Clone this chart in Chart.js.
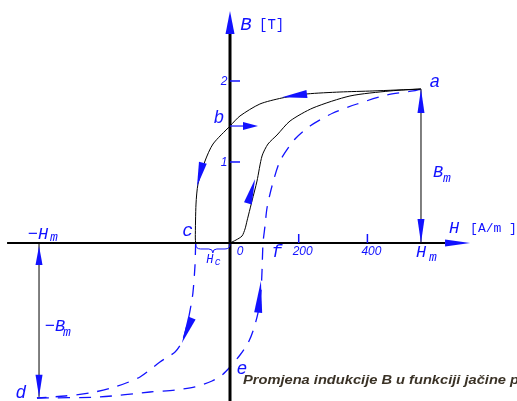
<!DOCTYPE html>
<html>
<head>
<meta charset="utf-8">
<script src="https://cdn.jsdelivr.net/npm/chart.js@4.4.1/dist/chart.umd.min.js"></script>
<style>
  html, body { margin: 0; padding: 0; background: #fff; }
</style>
</head>
<body>
<canvas id="chart" width="517" height="401"></canvas>
<script>
// hysteresis loop, H in A/m, B in T
const initH = [0, 17.5, 35, 43.7, 49.5, 58.2, 64, 78.6, 93.2, 110.6, 136.8, 174.7, 241.6, 349.3, 465.8, 556];
const initB = [0, 0.037, 0.086, 0.173, 0.272, 0.42, 0.519, 0.765, 1.074, 1.222, 1.333, 1.506, 1.667, 1.815, 1.877, 1.901];

const downH = [556, 416, 320, 224, 151, 87, 29, 0, -49.5, -72.8, -93.2, -99, -101, -100];
const downB = [1.901, 1.877, 1.864, 1.84, 1.79, 1.716, 1.568, 1.444, 1.222, 1.012, 0.728, 0.481, 0.062, 0];

const downDashH = [-100, -102, -108, -116, -125, -140, -160, -204, -262, -335, -408, -480, -562];
const downDashB = [0, -0.284, -0.617, -0.827, -1.012, -1.222, -1.346, -1.469, -1.654, -1.778, -1.852, -1.889, -1.914];

const upH = [-562, -378, -233, -160, -102, -52.4, -23.3, 0, 29.1, 52.4, 67, 81.5, 90.2, 93.2, 96.1, 101.9, 107.7, 122.3, 145.6, 189.2, 232.9, 299.9, 369.7, 457, 532.8, 556];
const upB = [-1.914, -1.901, -1.84, -1.815, -1.778, -1.704, -1.63, -1.531, -1.383, -1.235, -1.086, -0.864, -0.593, -0.346, 0, 0.21, 0.432, 0.704, 1.012, 1.284, 1.444, 1.605, 1.716, 1.827, 1.877, 1.901];

const hTicks = [200, 400];
const bTicks = [1, 2];

const Hm = 556, Bm = 1.90, Hc = 100, Br = 1.444, Bre = -1.531, Hcf = 96;

// arrows along the curves: [tipH, tipB, baseH, baseB]
const curveArrows = [
  [151, 1.80, 224, 1.84],
  [-96, 0.70, -79, 0.99],
  [73, 0.79, 52, 0.49],
  [-140, -1.235, -111, -0.926],
  [90, -0.47, 82, -0.86]
];

const BLUE = '#1212ff';

function pts(hs, bs) {
  return hs.map((h, i) => ({ x: h, y: bs[i] }));
}

function arrowHead(ctx, tx, ty, bx, by, hw) {
  const dx = tx - bx, dy = ty - by;
  const len = Math.hypot(dx, dy);
  const nx = -dy / len * hw, ny = dx / len * hw;
  ctx.beginPath();
  ctx.moveTo(tx, ty);
  ctx.lineTo(bx + nx, by + ny);
  ctx.lineTo(bx - nx, by - ny);
  ctx.closePath();
  ctx.fill();
}

function txt(ctx, s, x, y, font, align) {
  ctx.font = font;
  ctx.textAlign = align || 'left';
  ctx.fillText(s, x, y);
}

const drawing = {
  id: 'drawing',
  afterDatasetsDraw(chart) {
    const ctx = chart.ctx;
    const sx = chart.scales.x, sy = chart.scales.y;
    const X = v => sx.getPixelForValue(v);
    const Y = v => sy.getPixelForValue(v);
    const x0 = X(0), y0 = Y(0);
    ctx.save();

    // axes
    ctx.strokeStyle = '#000';
    ctx.lineWidth = 2;
    ctx.beginPath();
    ctx.moveTo(X(-649), y0);
    ctx.lineTo(X(626), y0);
    ctx.stroke();
    ctx.lineWidth = 3;
    ctx.beginPath();
    ctx.moveTo(x0, chart.chartArea.bottom);
    ctx.lineTo(x0, Y(2.58));
    ctx.stroke();
    ctx.fillStyle = BLUE;
    arrowHead(ctx, x0, Y(2.864), x0, Y(2.58), 4.5);
    arrowHead(ctx, X(699), y0, X(626), y0, 3.5);

    // ticks
    ctx.strokeStyle = BLUE;
    ctx.lineWidth = 1.5;
    hTicks.forEach(h => {
      ctx.beginPath();
      ctx.moveTo(X(h), y0);
      ctx.lineTo(X(h), y0 - 9);
      ctx.stroke();
    });
    bTicks.forEach(b => {
      ctx.beginPath();
      ctx.moveTo(x0, Y(b));
      ctx.lineTo(x0 + 10, Y(b));
      ctx.stroke();
    });

    // Bm and -Bm dimension lines
    ctx.strokeStyle = '#000';
    ctx.lineWidth = 1;
    [[Hm, Bm], [-Hm, -Bm]].forEach(([h, b]) => {
      ctx.beginPath();
      ctx.moveTo(X(h), Y(b));
      ctx.lineTo(X(h), y0);
      ctx.stroke();
    });
    ctx.fillStyle = BLUE;
    arrowHead(ctx, X(Hm), Y(Bm), X(Hm), Y(Bm) + 24, 3.5);
    arrowHead(ctx, X(Hm), y0, X(Hm), y0 - 24, 3.5);
    arrowHead(ctx, X(-Hm), y0 + 3, X(-Hm), y0 + 22, 3.5);
    arrowHead(ctx, X(-Hm), Y(-Bm), X(-Hm), Y(-Bm) - 22, 3.5);

    // curve arrows
    curveArrows.forEach(a => arrowHead(ctx, X(a[0]), Y(a[1]), X(a[2]), Y(a[3]), 4));

    // remanence arrow at b
    ctx.strokeStyle = BLUE;
    ctx.lineWidth = 1.2;
    ctx.beginPath();
    ctx.moveTo(x0, Y(Br));
    ctx.lineTo(x0 + 15, Y(Br));
    ctx.stroke();
    arrowHead(ctx, x0 + 28, Y(Br), x0 + 13, Y(Br), 4);

    // Hc brace
    const xa = X(-Hc), xm = (xa + x0) / 2;
    ctx.lineWidth = 1;
    ctx.beginPath();
    ctx.moveTo(xa, y0 + 1);
    ctx.quadraticCurveTo(xa, y0 + 6, xa + 5, y0 + 6);
    ctx.lineTo(xm - 4, y0 + 6);
    ctx.quadraticCurveTo(xm, y0 + 6, xm, y0 + 10);
    ctx.quadraticCurveTo(xm, y0 + 6, xm + 4, y0 + 6);
    ctx.lineTo(x0 - 5, y0 + 6);
    ctx.quadraticCurveTo(x0, y0 + 6, x0, y0 + 1);
    ctx.stroke();

    // texts
    ctx.fillStyle = BLUE;
    ctx.textBaseline = 'alphabetic';
    const mono = '"Liberation Mono", "DejaVu Sans Mono", monospace';
    const sans = '"Liberation Sans", Arial, sans-serif';
    const L = 'italic 18px ' + mono;
    txt(ctx, 'a', X(Hm) + 14, Y(Bm) - 2, L, 'center');
    txt(ctx, 'b', x0 - 11, Y(Br) - 3, L, 'center');
    txt(ctx, 'c', xa - 8, y0 - 7, L, 'center');
    txt(ctx, 'd', X(-Hm) - 18, Y(-Bm) + 1, L, 'center');
    txt(ctx, 'e', x0 + 12, Y(Bre) + 7, L, 'center');
    txt(ctx, 'f', X(Hcf) + 14, y0 + 14, L, 'center');

    txt(ctx, 'B', x0 + 16, 30, 'italic 19px ' + mono, 'center');
    txt(ctx, '[T]', x0 + 29, 29, '14px ' + mono, 'left');
    txt(ctx, 'H', X(699) - 16, y0 - 10, 'italic 17px ' + mono, 'center');
    txt(ctx, '[A/m ]', X(699), y0 - 11, '13px ' + mono, 'left');

    const tf = 'italic 12px ' + sans;
    hTicks.forEach(h => txt(ctx, String(h), X(h) + 4, y0 + 12, tf, 'center'));
    bTicks.forEach(b => txt(ctx, String(b), x0 - 6, Y(b) + 4, tf, 'center'));
    txt(ctx, '0', x0 + 10, y0 + 12, tf, 'center');

    const HL = 'italic 17px ' + mono, SL = 'italic 13px ' + mono;
    txt(ctx, 'H', X(Hm), y0 + 14, HL, 'center');
    txt(ctx, 'm', X(Hm) + 12, y0 + 18, SL, 'center');
    txt(ctx, '\u2212H', X(-Hm) - 1, y0 - 4, HL, 'center');
    txt(ctx, 'm', X(-Hm) + 15, y0 - 2, SL, 'center');
    txt(ctx, 'B', X(Hm) + 17, 177, HL, 'center');
    txt(ctx, 'm', X(Hm) + 26, 182, SL, 'center');
    txt(ctx, '\u2212B', X(-Hm) + 16, 331, HL, 'center');
    txt(ctx, 'm', X(-Hm) + 28, 336, SL, 'center');
    txt(ctx, 'H', xm - 3, y0 + 20, 'italic 12px ' + mono, 'center');
    txt(ctx, 'c', xm + 5, y0 + 22, 'italic 10px ' + mono, 'center');

    // caption, stretched to run off the right edge like the original
    const cap = 'Promjena indukcije B u funkciji jačine p';
    ctx.fillStyle = '#3a3226';
    ctx.font = 'bold italic 13px ' + sans;
    ctx.textAlign = 'left';
    const w = ctx.measureText(cap).width;
    ctx.translate(243, 384);
    ctx.scale(276 / w, 1);
    ctx.fillText(cap, 0, 0);

    ctx.restore();
  }
};

const solid = { borderColor: '#000', borderWidth: 1 };
const dashed = { borderColor: BLUE, borderWidth: 1.3, borderDash: [12, 9] };

new Chart(document.getElementById('chart'), {
  type: 'scatter',
  data: {
    datasets: [
      Object.assign({ label: 'initial', data: pts(initH, initB) }, solid),
      Object.assign({ label: 'down', data: pts(downH, downB) }, solid),
      Object.assign({ label: 'down dashed', data: pts(downDashH, downDashB) }, dashed),
      Object.assign({ label: 'up dashed', data: pts(upH, upB) }, dashed)
    ]
  },
  options: {
    responsive: false,
    animation: false,
    layout: { padding: 0 },
    elements: {
      point: { radius: 0 },
      line: { tension: 0.25, fill: false }
    },
    datasets: { scatter: { showLine: true } },
    plugins: {
      legend: { display: false },
      tooltip: { enabled: false },
      title: { display: false }
    },
    scales: {
      x: { type: 'linear', min: -669.6, max: 835.5, display: false },
      y: { type: 'linear', min: -1.951, max: 3.0, display: false }
    }
  },
  plugins: [drawing]
});
</script>
</body>
</html>
